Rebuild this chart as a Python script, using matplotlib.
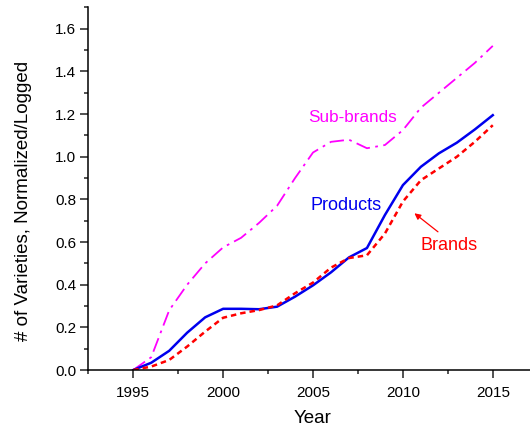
import matplotlib
matplotlib.use("Agg")
import matplotlib.pyplot as plt
from matplotlib.ticker import MultipleLocator

years = list(range(1995, 2016))
products = [0.0, 0.034, 0.09, 0.175, 0.247, 0.287, 0.287, 0.285, 0.297, 0.344, 0.397,
            0.458, 0.528, 0.572, 0.727, 0.867, 0.953, 1.016, 1.066, 1.128, 1.195]
brands = [0.0, 0.016, 0.047, 0.11, 0.18, 0.245, 0.266, 0.281, 0.303, 0.36, 0.41,
          0.48, 0.525, 0.538, 0.64, 0.79, 0.89, 0.945, 1.0, 1.07, 1.148]
subbrands = [0.0, 0.06, 0.28, 0.40, 0.50, 0.575, 0.62, 0.69, 0.77, 0.90, 1.02,
             1.07, 1.08, 1.04, 1.055, 1.125, 1.23, 1.30, 1.37, 1.44, 1.52]

plt.rcParams['font.family'] = ['Liberation Sans', 'DejaVu Sans']

fig = plt.figure(figsize=(5.30, 4.28), dpi=100)
ax = fig.add_axes([0.1666, 0.1355, 0.848, 0.847])

ax.plot(years, subbrands, color='#ff00ff', lw=1.3, linestyle=(0, (8, 3, 1.5, 3)))
ax.plot(years, products, color='#0000ee', lw=1.8, linestyle='-')
ax.plot(years, brands, color='#ff0000', lw=1.8, linestyle=(0, (2.2, 1.6)))

ax.set_xlim(1992.5, 2017.5)
ax.set_ylim(0, 1.7)
ax.xaxis.set_major_locator(MultipleLocator(5))
ax.xaxis.set_minor_locator(MultipleLocator(2.5))
ax.yaxis.set_major_locator(MultipleLocator(0.2))
ax.yaxis.set_minor_locator(MultipleLocator(0.1))
ax.yaxis.set_major_formatter(matplotlib.ticker.FormatStrFormatter('%.1f'))

for s in ['top', 'right']:
    ax.spines[s].set_visible(False)
for s in ['left', 'bottom']:
    ax.spines[s].set_linewidth(1.1)

ax.tick_params(which='major', direction='out', length=5.5, width=1.1, labelsize=11, color='#222222')
ax.tick_params(which='minor', direction='out', length=3, width=1.1, color='#222222')
ax.tick_params(axis='x', which='major', pad=6)
ax.tick_params(axis='y', which='major', pad=3)

ax.set_xlabel('Year', fontsize=13.5, labelpad=7)
ax.set_ylabel('# of Varieties, Normalized/Logged', fontsize=13.5)
ax.yaxis.set_label_coords(-0.126, 0.466)

ax.text(2007.2, 1.186, 'Sub-brands', color='#ff00ff', fontsize=12.3, ha='center', va='center')
ax.text(2006.85, 0.77, 'Products', color='#0000ee', fontsize=13, ha='center', va='center')
ax.text(2012.58, 0.586, 'Brands', color='#ff0000', fontsize=13, ha='center', va='center')
ax.annotate('', xy=(2010.64, 0.735), xytext=(2011.95, 0.648),
            arrowprops=dict(arrowstyle='-|>', color='#ff0000', lw=0.9,
                            mutation_scale=9, shrinkA=0, shrinkB=0))

fig.savefig('out.png', dpi=100)
